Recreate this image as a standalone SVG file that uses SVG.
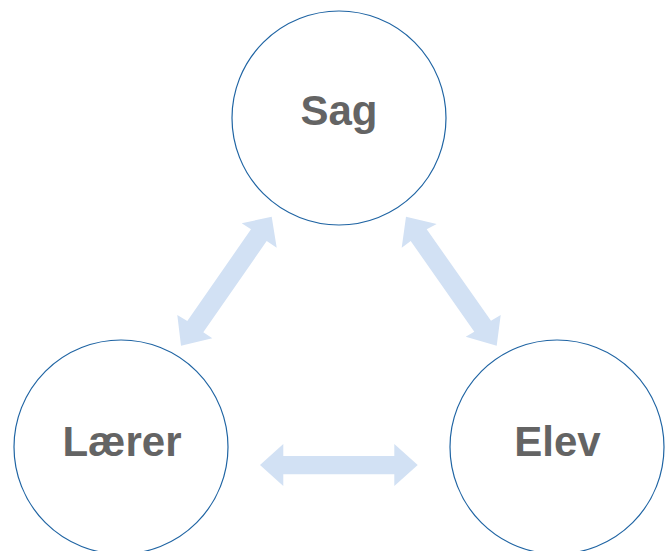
<svg xmlns="http://www.w3.org/2000/svg" width="670" height="551" viewBox="0 0 670 551">
<style>
.node circle{fill:#ffffff;stroke:#1f64a3;stroke-width:1.2}
.node text{font-family:"Liberation Sans",Arial,sans-serif;font-weight:bold;font-size:42px;fill:#646464;text-anchor:middle}
.arrow{fill:#d2e1f4}
</style>
<rect width="670" height="551" fill="#ffffff"/>
<g id="connectors">
<polygon class="arrow" points="271.7,216.7 276.7,247.7 266.7,241 203.3,332.3 212.3,338.3 181,345.7 177.3,315 187.3,321 251,229.3 241.7,223.3"/>
<polygon class="arrow" points="406,216.7 436.7,224 426.7,229.3 491,320.7 500.7,315 496.7,345.7 465.7,336.7 474.3,331.7 410.7,241 401.7,247.7"/>
<polygon class="arrow" points="260,465 283.3,444 283.3,456 394.3,456 394.3,444 417.7,465 394.3,486 394.3,474.3 283.3,474.3 283.3,486"/>
</g>
<g id="sag" class="node">
<circle cx="339" cy="118" r="107"/>
<text x="339" y="125">Sag</text>
</g>
<g id="laerer" class="node">
<circle cx="121" cy="447" r="107"/>
<text x="122" y="456">Lærer</text>
</g>
<g id="elev" class="node">
<circle cx="557" cy="447" r="107"/>
<text x="557.5" y="456">Elev</text>
</g>
</svg>
